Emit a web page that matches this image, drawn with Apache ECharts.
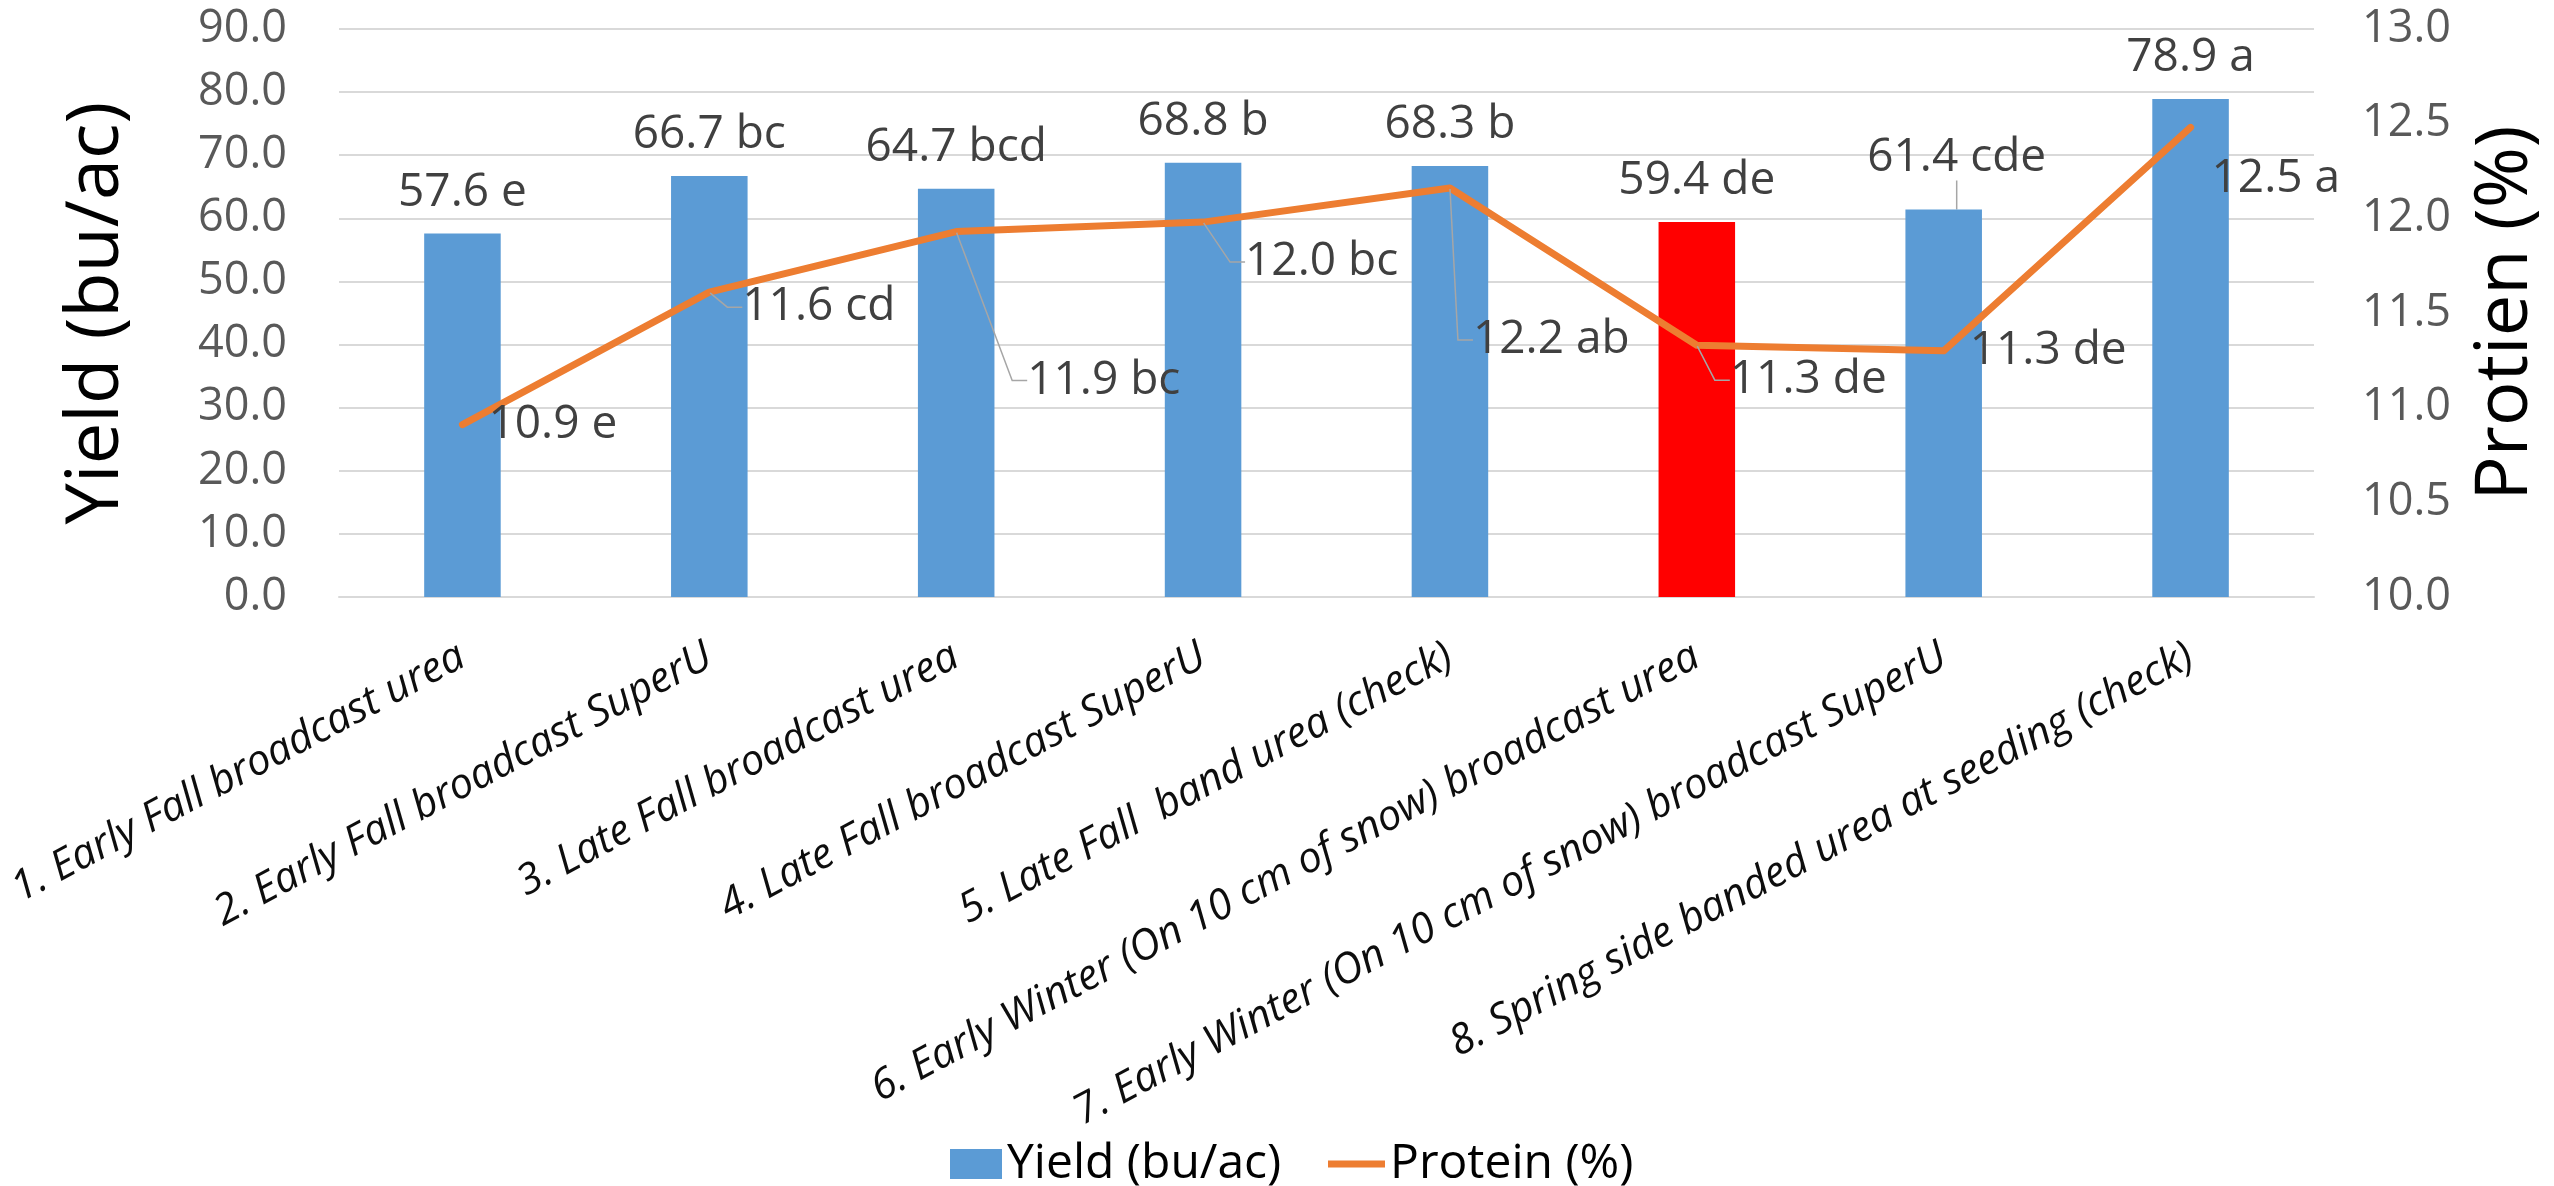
<!DOCTYPE html>
<html>
<head>
<meta charset="utf-8">
<script src="https://cdn.jsdelivr.net/npm/echarts@6/dist/echarts.min.js"></script>
<style>
html,body{margin:0;padding:0;background:#fff;}
#chart{width:2554px;height:1186px;}
</style>
</head>
<body>
<div id="chart"></div>
<script>
// ---- data ----
const categories = [
  '1. Early Fall broadcast urea',
  '2. Early Fall broadcast SuperU',
  '3. Late Fall broadcast urea',
  '4. Late Fall broadcast SuperU',
  '5. Late Fall  band urea (check)',
  '6. Early Winter (On 10 cm of snow) broadcast urea',
  '7. Early Winter (On 10 cm of snow) broadcast SuperU',
  '8. Spring side banded urea at seeding (check)'
];
const yieldValues = [57.6, 66.7, 64.7, 68.8, 68.3, 59.4, 61.4, 78.9];
const yieldLetters = ['e', 'bc', 'bcd', 'b', 'b', 'de', 'cde', 'a'];
const proteinValues = [10.91, 11.61, 11.93, 11.98, 12.16, 11.33, 11.30, 12.48];
const proteinLetters = ['e', 'cd', 'bc', 'bc', 'ab', 'de', 'de', 'a'];
const yieldTicks = {min: 0, max: 90, interval: 10};
const proteinTicks = {min: 10, max: 13, interval: 0.5};

// ---- styles / label placement (not data) ----
const highlightIndex = 5;
const blue = '#5B9BD5', red = '#FF0000', orange = '#ED7D31';
const barLabelShift = [[0,0],[0,0],[0,0],[0,0],[0,0],[0,0],[13,-11],[0,0]];
const barLeader = [false, false, false, false, false, false, true, false];
const lineLabelShift = [[0,0],[7,15],[45,149],[16,40],[-3,152],[7,35],[0,0],[-5,51]];
const lineLeader = [false, true, true, true, true, true, false, false];
const FONT = '"Open Sans", "Noto Sans", sans-serif';

const chart = echarts.init(document.getElementById('chart'), null, {renderer: 'canvas'});
chart.setOption({
  backgroundColor: '#ffffff',
  animation: false,
  textStyle: {fontFamily: FONT},
  grid: {left: 339, right: 240, top: 29, bottom: 589, containLabel: false},
  legend: [
    {data: [{name: 'Yield (bu/ac)', icon: 'rect'}], left: 945, top: 1135, itemWidth: 52, itemHeight: 30,
     itemGap: 0, textStyle: {fontSize: 48, color: '#000', fontFamily: FONT}},
    {data: [{name: 'Protein (%)', icon: 'path://M0,0h100v12h-100z'}], left: 1323, top: 1135, itemWidth: 57, itemHeight: 30,
     itemGap: 0, textStyle: {fontSize: 48, color: '#000', fontFamily: FONT}}
  ],
  xAxis: {
    type: 'category',
    data: categories,
    axisTick: {show: false},
    axisLine: {show: true, lineStyle: {color: '#d9d9d9', width: 2}},
    axisLabel: {
      rotate: 28, interval: 0, margin: 57,
      fontSize: 42, fontStyle: 'italic', color: '#0d0d0d', fontFamily: FONT
    }
  },
  yAxis: [
    {
      type: 'value', position: 'left',
      min: yieldTicks.min, max: yieldTicks.max, interval: yieldTicks.interval,
      name: 'Yield (bu/ac)', nameLocation: 'middle', nameGap: 205, nameRotate: 90,
      nameTextStyle: {fontSize: 74, color: '#000', fontFamily: FONT},
      axisLine: {show: false}, axisTick: {show: false},
      axisLabel: {fontSize: 45, color: '#595959', margin: 52, formatter: v => v.toFixed(1)},
      splitLine: {show: true, lineStyle: {color: '#d9d9d9', width: 2}}
    },
    {
      type: 'value', position: 'right',
      min: proteinTicks.min, max: proteinTicks.max, interval: proteinTicks.interval,
      name: 'Protien (%)', nameLocation: 'middle', nameGap: 155, nameRotate: 90,
      nameTextStyle: {fontSize: 74, color: '#000', fontFamily: FONT},
      axisLine: {show: false}, axisTick: {show: false},
      axisLabel: {fontSize: 45, color: '#595959', margin: 48, formatter: v => v.toFixed(1)},
      splitLine: {show: false}
    }
  ],
  series: [
    {
      name: 'Yield (bu/ac)', type: 'bar', yAxisIndex: 0, barWidth: '31%',
      itemStyle: {color: blue},
      data: yieldValues.map((v, i) => ({
        value: v,
        itemStyle: {color: i === highlightIndex ? red : blue},
        labelLine: {show: barLeader[i]}
      })),
      label: {
        show: true, position: 'top', distance: 18,
        fontSize: 46, color: '#404040', fontFamily: FONT,
        formatter: p => yieldValues[p.dataIndex].toFixed(1) + ' ' + yieldLetters[p.dataIndex]
      },
      labelLine: {length2: 0, lineStyle: {color: '#a6a6a6', width: 1.5}},
      labelLayout: p => ({dx: barLabelShift[p.dataIndex][0], dy: barLabelShift[p.dataIndex][1]})
    },
    {
      name: 'Protein (%)', type: 'line', yAxisIndex: 1, z: 5,
      symbol: 'circle', symbolSize: 2, showSymbol: true,
      itemStyle: {color: orange},
      lineStyle: {color: orange, width: 7, cap: 'round', join: 'round'},
      data: proteinValues.map((v, i) => ({
        value: v,
        labelLine: {show: lineLeader[i]}
      })),
      label: {
        show: true, position: 'right', distance: 25,
        fontSize: 46, color: '#404040', fontFamily: FONT,
        formatter: p => proteinValues[p.dataIndex].toFixed(1) + ' ' + proteinLetters[p.dataIndex]
      },
      labelLine: {length2: 15, lineStyle: {color: '#a6a6a6', width: 1.5}},
      labelLayout: p => ({dx: lineLabelShift[p.dataIndex][0], dy: lineLabelShift[p.dataIndex][1]})
    }
  ]
});
</script>
</body>
</html>
